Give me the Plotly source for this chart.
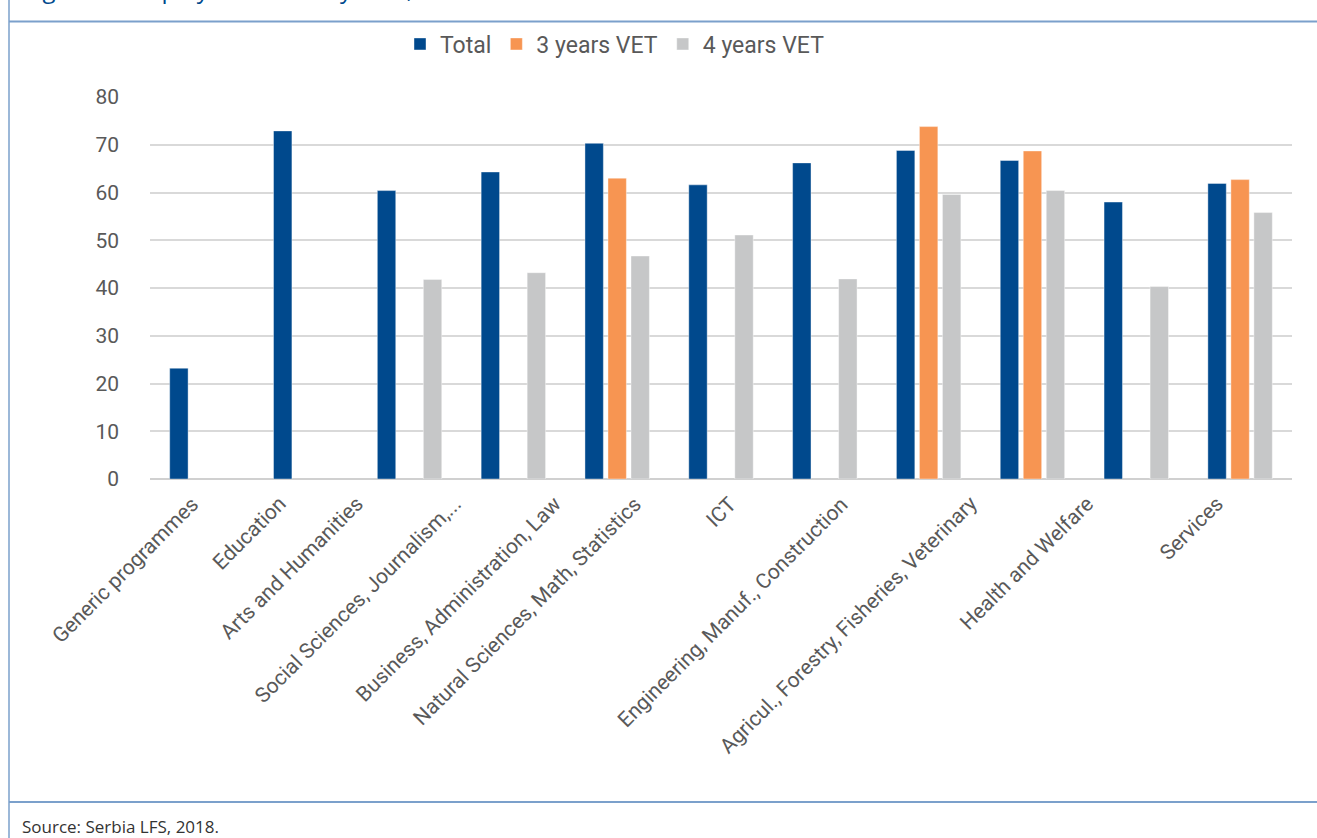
import plotly.graph_objects as go

categories = [
    "Generic programmes", "Education", "Arts and Humanities",
    "Social Sciences, Journalism,...", "Business, Administration, Law",
    "Natural Sciences, Math, Statistics", "ICT",
    "Engineering, Manuf., Construction",
    "Agricul., Forestry, Fisheries, Veterinary",
    "Health and Welfare", "Services",
]
total = [23.2, 72.9, 60.4, 64.3, 70.3, 61.6, 66.2, 68.8, 66.7, 58.0, 61.9]
vet3 = [None, None, None, None, 63.0, None, None, 73.8, 68.7, None, 62.7]
vet4 = [None, None, 41.8, 43.2, 46.7, 51.1, 41.9, 59.6, 60.4, 40.3, 55.8]
series_names = ["Total", "3 years VET", "4 years VET"]
colors = ["#00498D", "#F79552", "#C6C7C8"]
y_ticks = [0, 10, 20, 30, 40, 50, 60, 70, 80]

# horizontal shift (px) of each rotated category label, as laid out in the original
label_shift = [-2, -18, -45, -51, -54, -78, -87, -79, -54, -41, -15]

W, H = 1317, 838
L, R, T, B = 150, 25, 97, 359
pw, ph = W - L - R, H - T - B


def px_x(x):
    return (x - L) / pw


def px_y(y):
    return (H - B - y) / ph


fig = go.Figure()
for name, vals, col in zip(series_names, [total, vet3, vet4], colors):
    fig.add_trace(go.Bar(
        x=categories, y=vals, name=name,
        marker=dict(color=col, line=dict(color="rgba(255,255,255,0.5)", width=0.8)),
    ))

frame = "#7BA0CB"
shapes = [
    dict(type="line", xref="paper", yref="paper", x0=px_x(9), x1=px_x(W + 5),
         y0=px_y(21.5), y1=px_y(21.5), line=dict(color=frame, width=2)),
    dict(type="line", xref="paper", yref="paper", x0=px_x(9), x1=px_x(W + 5),
         y0=px_y(802), y1=px_y(802), line=dict(color=frame, width=2)),
    dict(type="line", xref="paper", yref="paper", x0=px_x(9), x1=px_x(9),
         y0=px_y(-5), y1=px_y(H + 5), line=dict(color=frame, width=1.5)),
]

annotations = [
    dict(text="Figure 6: Employment rate by field, 2018", xref="paper", yref="paper",
         x=px_x(22), y=px_y(7), xanchor="left", yanchor="bottom", showarrow=False,
         font=dict(family="Open Sans", size=24, color="#00498D")),
    dict(text="Source: Serbia LFS, 2018.", xref="paper", yref="paper",
         x=px_x(20), y=px_y(826), xanchor="left", yanchor="middle", showarrow=False,
         font=dict(family="Open Sans", size=17, color="#333333")),
]
for cat, sh in zip(categories, label_shift):
    annotations.append(dict(
        text=cat, x=cat, xref="x", y=0, yref="paper", xanchor="right", yanchor="top",
        xshift=sh + 6, yshift=-10, textangle=-45, showarrow=False,
        font=dict(family="Roboto", size=21, color="#595959"),
    ))

fig.update_layout(
    width=W, height=H,
    margin=dict(l=L, r=R, t=T, b=B, autoexpand=False),
    paper_bgcolor="white", plot_bgcolor="white",
    barmode="group", bargap=0.335, bargroupgap=0.2,
    font=dict(family="Roboto", color="#595959"),
    legend=dict(orientation="h", x=px_x(400), y=px_y(44), xanchor="left", yanchor="middle",
                font=dict(size=23, color="#595959"), itemwidth=30, traceorder="normal"),
    shapes=shapes, annotations=annotations,
    xaxis=dict(showticklabels=False, showgrid=False, showline=False, ticks="",
               categoryorder="array", categoryarray=categories,
               range=[-0.5, len(categories) - 0.5], autorange=False),
    yaxis=dict(range=[0, 80], tickvals=y_ticks, tickfont=dict(size=21, color="#595959"),
               gridcolor="#D9D9D9", gridwidth=1.5, zeroline=True, zerolinecolor="#D0D0D0",
               zerolinewidth=2, showline=False, ticks="", ticklabelstandoff=30),
)

fig.write_html("out.html", config={"displayModeBar": False},
               post_script="document.body.style.margin='0px';")
